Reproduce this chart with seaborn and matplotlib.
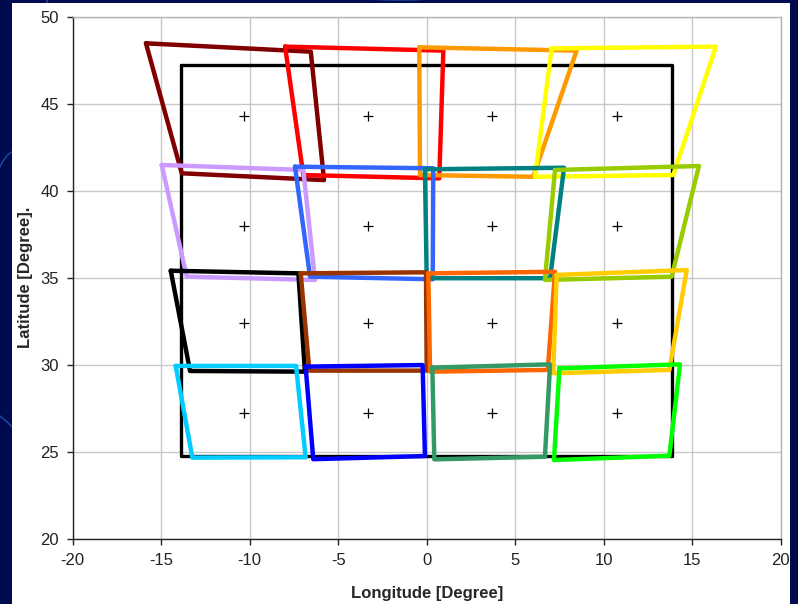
import matplotlib
matplotlib.use("Agg")
import matplotlib.pyplot as plt
import numpy as np
import pandas as pd
import seaborn as sns
from matplotlib.patches import Rectangle, Arc

# Footprint corners (top-left, top-right, bottom-right, bottom-left), degrees
cells = ["r1c1", "r1c2", "r1c3", "r1c4",
         "r2c1", "r2c2", "r2c3", "r2c4",
         "r3c1", "r3c2", "r3c3", "r3c4",
         "r4c1", "r4c2", "r4c3", "r4c4"]
cell_lon = [
    [-15.86, -6.55, -5.80, -13.84],
    [-8.00, 0.94, 0.71, -6.97],
    [-0.42, 8.47, 6.02, -0.38],
    [7.06, 16.34, 13.93, 6.12],
    [-14.97, -6.97, -6.31, -13.56],
    [-7.44, 0.37, 0.34, -6.59],
    [-0.10, 7.76, 6.97, 0.00],
    [7.25, 15.38, 13.84, 6.68],
    [-14.46, -7.25, -6.88, -13.37],
    [-7.12, -0.04, 0.00, -6.63],
    [0.09, 7.25, 6.84, 0.19],
    [7.34, 14.69, 13.71, 7.15],
    [-14.18, -7.38, -6.84, -13.24],
    [-6.84, -0.23, -0.10, -6.41],
    [0.32, 6.97, 6.68, 0.43],
    [7.50, 14.31, 13.71, 7.19],
]
cell_lat = [
    [48.47, 47.99, 40.61, 41.00],
    [48.28, 48.05, 40.71, 40.90],
    [48.24, 48.05, 40.80, 40.90],
    [48.18, 48.28, 40.90, 40.80],
    [41.48, 41.19, 34.87, 35.06],
    [41.38, 41.29, 34.91, 35.06],
    [41.23, 41.32, 34.97, 34.97],
    [41.19, 41.42, 35.06, 34.87],
    [35.40, 35.25, 29.60, 29.64],
    [35.25, 35.31, 29.66, 29.66],
    [35.25, 35.34, 29.70, 29.60],
    [35.16, 35.44, 29.70, 29.51],
    [29.93, 29.93, 24.68, 24.66],
    [29.89, 29.98, 24.75, 24.57],
    [29.83, 30.02, 24.71, 24.56],
    [29.79, 30.02, 24.77, 24.52],
]
cell_colors = ["#800000", "#ff0000", "#ff9900", "#ffff00",
               "#cc99ff", "#3366ff", "#008080", "#99cc00",
               "#000000", "#993300", "#ff6600", "#ffcc00",
               "#00ccff", "#0000ff", "#339966", "#00ff00"]

# Nominal field (black frame) and sub-field centres
frame_lon = [-13.90, 13.85, 13.85, -13.90]
frame_lat = [47.20, 47.20, 24.75, 24.75]
center_lon = [-10.30, -3.30, 3.67, 10.73]
center_lat = [44.29, 37.99, 32.38, 27.21]

x_ticks = [-20, -15, -10, -5, 0, 5, 10, 15, 20]
y_ticks = [20, 25, 30, 35, 40, 45, 50]

# Closed polygon outlines in long form
rows = []
for name, lons, lats in zip(cells, cell_lon, cell_lat):
    for k in list(range(4)) + [0]:
        rows.append({"cell": name, "lon": lons[k], "lat": lats[k]})
poly_df = pd.DataFrame(rows)

frame_df = pd.DataFrame({"lon": frame_lon + [frame_lon[0]],
                         "lat": frame_lat + [frame_lat[0]]})
cx, cy = np.meshgrid(center_lon, center_lat)
centers_df = pd.DataFrame({"lon": cx.ravel(), "lat": cy.ravel()})

sns.set_style("white")
plt.rcParams["font.family"] = ["Liberation Sans", "DejaVu Sans"]
plt.rcParams["axes.unicode_minus"] = False

fig = plt.figure(figsize=(7.98, 6.04), dpi=100)
fig.patch.set_facecolor("#000b4f")

# Slide backdrop: faint arcs and a white panel
for (cxf, cyf, w, h, t1, t2) in [(-0.05, 0.85, 0.25, 0.6, -60, 60),
                                 (0.02, 0.3, 0.12, 0.9, 60, 140),
                                 (-0.08, 0.1, 0.3, 0.5, -30, 80),
                                 (1.05, 0.7, 0.2, 0.8, 120, 240),
                                 (0.5, 1.35, 0.9, 0.7, 200, 340)]:
    fig.add_artist(Arc((cxf, cyf), w, h, theta1=t1, theta2=t2,
                       transform=fig.transFigure, color="#2f66c8",
                       lw=1.0, alpha=0.7, zorder=0))
fig.add_artist(Rectangle((12 / 798, 0), (790 - 12) / 798, 1 - 3 / 604,
                         transform=fig.transFigure, facecolor="white",
                         edgecolor="none", zorder=1))

ax = fig.add_axes([72.7 / 798, 1 - 538.7 / 604, 708 / 798, 522 / 604])
ax.set_zorder(2)
ax.set_facecolor("none")

sns.lineplot(data=frame_df, x="lon", y="lat", sort=False, estimator=None,
             color="black", lw=2.4, ax=ax, zorder=3)
sns.lineplot(data=poly_df, x="lon", y="lat", hue="cell", units="cell",
             sort=False, estimator=None, palette=cell_colors,
             hue_order=cells, lw=3.2, legend=False, ax=ax, zorder=4)
sns.scatterplot(data=centers_df, x="lon", y="lat", marker="+", s=60,
                color="black", linewidth=0.9, ax=ax, zorder=5)

ax.set_xlim(-20, 20)
ax.set_ylim(20, 50)
ax.set_xticks(x_ticks)
ax.set_yticks(y_ticks)
ax.grid(True, color="#c8c8c8", lw=1.0)
ax.set_axisbelow(True)
for side in ["top", "right"]:
    ax.spines[side].set_color("#b4b4b4")
    ax.spines[side].set_linewidth(1.0)
for side in ["left", "bottom"]:
    ax.spines[side].set_color("#222222")
    ax.spines[side].set_linewidth(1.0)
ax.tick_params(axis="both", which="major", direction="out", length=4,
               width=1, color="#222222", labelsize=12, labelcolor="#222222",
               left=True, bottom=True, pad=6)
ax.set_xlabel("Longitude [Degree]", fontsize=12, fontweight="bold", labelpad=13)
ax.set_ylabel("Latitude [Degree].", fontsize=12, fontweight="bold", labelpad=5)

fig.savefig("out.png", dpi=100, facecolor=fig.get_facecolor())
